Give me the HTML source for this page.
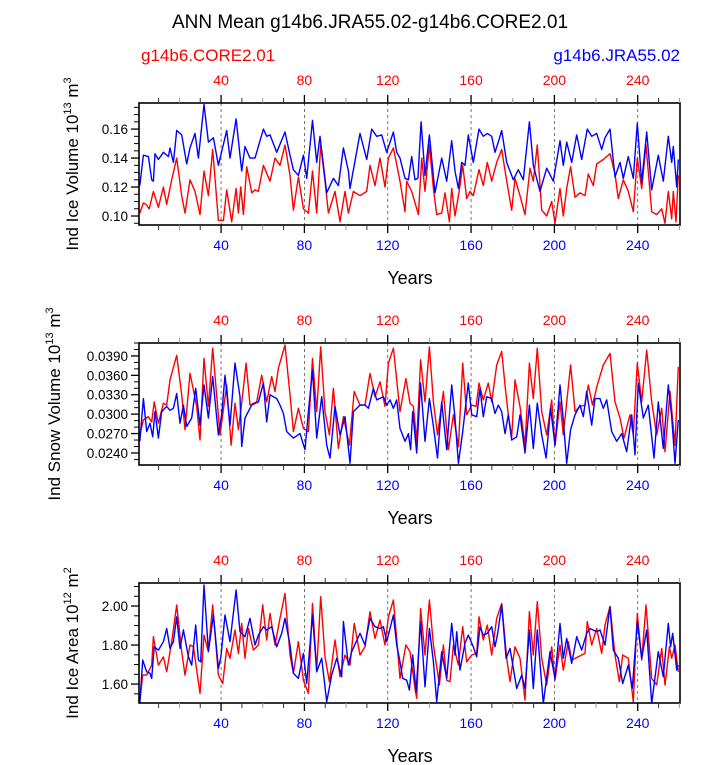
<!DOCTYPE html>
<html><head><meta charset="utf-8"><style>
body{margin:0;background:#fff;}
svg{display:block;font-family:"Liberation Sans",Arial,sans-serif;}
</style></head><body>
<svg id="chart" width="723" height="765" viewBox="0 0 723 765">
<text x="370" y="28" font-size="19" text-anchor="middle">ANN Mean g14b6.JRA55.02-g14b6.CORE2.01</text>
<text x="141" y="61" font-size="17" fill="#ff0000">g14b6.CORE2.01</text>
<text x="680" y="61" font-size="17" fill="#0000ff" text-anchor="end">g14b6.JRA55.02</text>
</svg>
<script>
const p1RedYears=[1,2.7,4,5.5,7.5,9.9,12.3,13.9,16.3,18.7,21.1,22.7,25.1,27.5,29.9,31.8,33.9,36,38.7,41.1,42.7,45.1,47.2,48.3,49.4,50.7,52.3,54.7,56.3,57.9,60.3,63.5,65.9,68.3,70.7,73.1,74.7,77.1,79.5,81.9,83.9,85.9,87.8,89.9,91.5,94.7,97.1,99.5,101.1,103.5,106.7,109.9,111.5,113.9,116.3,118.7,120.3,122.7,125.9,128.3,129.1,131.5,134.7,136.3,137.9,140,141.9,143.5,145.9,147.5,149.6,150.7,152.3,154.4,156,157.9,159.5,161.1,163.8,165.9,167.8,169.9,172.3,174.7,177.1,179.5,181.1,183.5,185.9,188.3,189.9,191.8,193.9,196.3,198.7,200.3,202.7,204.3,205.9,207.8,209.9,212.3,214.7,216.3,218.7,220.3,223.5,226.7,229.1,230.7,233.1,235.5,237.9,239.8,241.9,244,246.7,249.1,251.5,253.1,254.7,256.3,257.1,258.4,259.5];
const p1RedVals=[0.102,0.109,0.108,0.105,0.117,0.106,0.120,0.108,0.125,0.140,0.114,0.102,0.125,0.117,0.101,0.131,0.114,0.146,0.097,0.097,0.118,0.096,0.119,0.102,0.120,0.101,0.134,0.116,0.118,0.117,0.135,0.124,0.140,0.135,0.149,0.128,0.104,0.127,0.105,0.102,0.131,0.102,0.149,0.124,0.102,0.117,0.096,0.117,0.102,0.117,0.114,0.117,0.135,0.121,0.140,0.120,0.140,0.147,0.124,0.103,0.124,0.117,0.101,0.140,0.117,0.149,0.119,0.101,0.102,0.116,0.096,0.119,0.100,0.118,0.135,0.112,0.117,0.114,0.132,0.121,0.137,0.124,0.137,0.146,0.124,0.104,0.126,0.114,0.101,0.133,0.124,0.149,0.104,0.100,0.110,0.095,0.119,0.100,0.119,0.134,0.113,0.116,0.114,0.129,0.121,0.136,0.139,0.143,0.129,0.112,0.125,0.117,0.103,0.140,0.119,0.149,0.103,0.101,0.105,0.095,0.117,0.098,0.117,0.096,0.128];
const p1BlueYears=[1,2.7,5.1,6.7,7.5,8.3,9.9,12.3,14.7,15.5,17.1,18.7,21.1,23.5,25.1,27.5,29.1,31.8,33.9,36.3,38.7,42.7,44.3,47.2,49.9,51.5,53.9,56.3,60.3,61.9,63.5,66.7,70.7,73.1,74.7,77.1,79.5,81.1,83.9,85.9,87.5,90.7,93.9,96.3,98.7,101.1,101.9,106.7,109.9,112.3,114.7,117.1,119.5,122.7,124.3,125.9,128.3,129.9,131.5,133.1,134.5,136,137.9,140,142.7,145.9,148.3,150.7,152.3,153.9,155.5,157.1,158.7,161.1,163.8,165.9,167.8,169.9,171.5,173.1,174.7,177.1,180.3,182.7,185.1,188,189.9,193.1,196.3,199.5,202.7,204.3,205.9,208.3,210.7,213.1,215.8,217.9,220.3,222.7,224.3,226.7,229.1,231.5,233.1,235.5,237.9,239.8,241.9,244.3,246.7,249.9,252.3,254.7,256.3,257.1,258.7,259.5];
const p1BlueVals=[0.121,0.142,0.141,0.125,0.124,0.143,0.139,0.144,0.141,0.147,0.137,0.159,0.156,0.136,0.147,0.157,0.140,0.177,0.151,0.154,0.135,0.159,0.140,0.167,0.131,0.148,0.140,0.140,0.160,0.155,0.156,0.144,0.158,0.142,0.132,0.128,0.142,0.126,0.166,0.137,0.155,0.116,0.126,0.121,0.147,0.131,0.119,0.157,0.139,0.160,0.155,0.156,0.144,0.158,0.144,0.140,0.126,0.125,0.141,0.125,0.126,0.165,0.128,0.156,0.116,0.140,0.124,0.152,0.131,0.119,0.137,0.135,0.156,0.137,0.160,0.155,0.157,0.155,0.144,0.151,0.159,0.137,0.125,0.132,0.125,0.165,0.135,0.117,0.133,0.124,0.152,0.135,0.151,0.137,0.156,0.139,0.160,0.155,0.157,0.146,0.154,0.160,0.127,0.137,0.126,0.141,0.126,0.164,0.123,0.158,0.118,0.142,0.124,0.155,0.137,0.148,0.120,0.139];
const p1YTicks=[0.10,0.12,0.14,0.16];
const p1YLabels=["0.10","0.12","0.14","0.16"];
const p2RedYears=[1,2.7,5,6.7,7.9,9.9,12.3,13.9,15.5,18.7,21.1,22.7,25.1,28.3,29.9,31.8,33.9,36,39.5,42.7,44.8,46.7,48.3,49.9,52,53.9,57.1,59.5,61.9,64.3,65.9,67.5,69.1,70.7,73.1,74.7,77.1,79.5,81.9,83.9,85.9,87.8,89.9,92,93.9,96.3,98.7,101.6,103.9,106.7,109.1,111.5,113.9,116.3,118.7,120.3,122.7,125.9,128.7,130.7,132.3,133.9,135.8,137.9,140,141.9,143.9,146.7,149.1,151.5,153.9,156,157.9,160.3,162.4,163.8,165.9,168.3,169.9,172.3,174.7,176.3,177.9,179.5,181.1,183.5,185.9,188,189.9,191.8,193.9,196.3,198.7,200.3,202.7,204.3,207.8,209.9,212.3,214.7,216.3,218.3,220.6,223.5,226.7,229.1,231.5,233.4,236.3,237.9,239.8,241.9,244.3,246.7,249.1,251.5,253.1,255.5,257.9,259.5];
const p2RedVals=[0.0268,0.0291,0.0296,0.0288,0.0319,0.0286,0.0317,0.0314,0.0353,0.0391,0.0330,0.0276,0.0363,0.0312,0.0260,0.0386,0.0312,0.0402,0.0268,0.0345,0.0252,0.0317,0.0276,0.0317,0.0379,0.0314,0.0319,0.0360,0.0319,0.0358,0.0335,0.0371,0.0389,0.0407,0.0330,0.0273,0.0309,0.0278,0.0273,0.0386,0.0304,0.0404,0.0304,0.0268,0.0340,0.0247,0.0296,0.0252,0.0335,0.0314,0.0314,0.0363,0.0327,0.0350,0.0312,0.0379,0.0402,0.0304,0.0355,0.0317,0.0312,0.0258,0.0384,0.0319,0.0404,0.0319,0.0268,0.0335,0.0245,0.0299,0.0250,0.0379,0.0299,0.0314,0.0312,0.0348,0.0322,0.0348,0.0319,0.0376,0.0397,0.0345,0.0299,0.0265,0.0353,0.0312,0.0252,0.0379,0.0324,0.0402,0.0304,0.0268,0.0322,0.0252,0.0319,0.0268,0.0376,0.0304,0.0312,0.0314,0.0345,0.0314,0.0345,0.0376,0.0394,0.0319,0.0294,0.0263,0.0299,0.0268,0.0379,0.0319,0.0399,0.0319,0.0268,0.0309,0.0242,0.0335,0.0252,0.0373];
const p2BlueYears=[1,2.7,4.3,5.9,7.2,8.3,9.9,11.5,13.9,15.5,17.1,18.7,20.3,21.9,23.5,25.9,27.8,29.9,31.8,33.9,36,38.7,40.3,41.9,44.3,46.7,49.1,49.9,51.5,54.7,57.9,60.3,61.9,63.5,66.7,68.3,69.9,71.5,74.7,77.9,80.3,81.9,83.9,85.9,88.3,90.7,92.3,94.7,97.1,99.5,101.9,103.5,106.7,109.1,110.7,113.1,114.7,117.9,119.5,121.1,122.7,124.3,125.9,128.3,129.9,131,132,133.9,135.8,137.9,140,141.9,143.9,145.9,148.3,150.7,152.3,153.9,156,158.7,160.3,162.7,164.3,165.9,167.5,169.9,171.5,173.1,174.7,176.3,177.9,179.5,181.9,183.5,185.9,188,189.9,191.8,193.9,196,198.2,200.3,202.7,204.3,205.9,207.8,209.9,212.3,213.9,215.5,217.9,219.5,221.9,223.5,225.1,227.5,229.9,232.3,234.7,237.1,238.7,240.3,242.7,245.1,247.8,249.9,252.3,254.7,256.3,257.9,259.5];
const p2BlueVals=[0.0258,0.0324,0.0273,0.0286,0.0265,0.0304,0.0263,0.0304,0.0312,0.0306,0.0309,0.0332,0.0286,0.0314,0.0281,0.0294,0.0340,0.0283,0.0345,0.0294,0.0358,0.0268,0.0299,0.0360,0.0283,0.0379,0.0327,0.0250,0.0294,0.0314,0.0319,0.0348,0.0288,0.0330,0.0324,0.0314,0.0301,0.0273,0.0263,0.0270,0.0245,0.0304,0.0368,0.0263,0.0327,0.0252,0.0232,0.0312,0.0268,0.0296,0.0224,0.0304,0.0314,0.0314,0.0309,0.0340,0.0322,0.0327,0.0314,0.0322,0.0309,0.0322,0.0278,0.0258,0.0270,0.0245,0.0304,0.0240,0.0348,0.0258,0.0324,0.0281,0.0232,0.0319,0.0245,0.0345,0.0294,0.0224,0.0273,0.0348,0.0299,0.0296,0.0340,0.0296,0.0327,0.0324,0.0301,0.0314,0.0304,0.0270,0.0299,0.0260,0.0265,0.0299,0.0240,0.0314,0.0247,0.0317,0.0268,0.0232,0.0309,0.0252,0.0345,0.0291,0.0224,0.0276,0.0299,0.0314,0.0296,0.0335,0.0283,0.0324,0.0324,0.0309,0.0322,0.0273,0.0258,0.0270,0.0242,0.0299,0.0237,0.0348,0.0294,0.0314,0.0232,0.0319,0.0247,0.0345,0.0296,0.0224,0.0291];
const p2YTicks=[0.024,0.027,0.030,0.033,0.036,0.039];
const p2YLabels=["0.0240","0.0270","0.0300","0.0330","0.0360","0.0390"];
const p3RedYears=[1,2.4,4.3,6.7,7.5,9.9,12.3,13.9,16.3,18.7,21.1,22.7,25.1,26.7,29.9,31.8,33.9,36,38.7,40.8,42.7,44.3,46.7,48.3,49.9,51.5,53.1,55.5,57.9,60,61.9,63.5,65.9,68.3,70.7,73.1,74.7,77.1,79.5,81.9,83.9,85.9,87.8,89.9,92,94.7,97.1,99.5,101.9,103.9,106.7,109.1,111.5,113.9,116.3,118.7,120.3,122.7,125.9,128.7,130.7,133.1,133.9,135.8,137.9,140,141.9,144.8,146.7,148.3,149.9,151.5,153.9,156,157.9,160.3,162.7,163.8,165.9,167.8,169.9,172.3,174.7,177.1,178.7,181.1,183.5,185.9,188,189.9,191.8,193.9,196.3,198.7,200.3,202.7,204.3,206.7,208.3,211.5,214.7,215.8,217.9,220.3,222.7,224.3,226.7,229.1,231.2,232.8,235.5,237.9,239.8,241.9,244,246.7,249.1,251.5,253.1,255.2,256.3,257.9,259.5];
const p3RedVals=[1.510,1.646,1.646,1.697,1.843,1.697,1.740,1.663,1.817,2.005,1.766,1.646,1.800,1.791,1.552,1.851,1.766,2.005,1.646,1.603,1.783,1.732,1.877,1.757,1.911,1.732,1.885,1.774,1.800,2.005,1.826,1.962,1.800,1.937,2.065,1.749,1.655,1.817,1.620,1.552,2.013,1.672,2.048,1.740,1.612,1.826,1.638,1.749,1.697,1.911,1.749,1.791,1.971,1.834,1.928,1.800,1.945,2.031,1.629,1.800,1.766,1.578,1.527,1.988,1.749,2.031,1.800,1.595,1.800,1.620,1.612,1.800,1.697,1.894,1.714,1.749,1.757,1.945,1.826,1.903,1.749,1.937,2.013,1.732,1.612,1.791,1.732,1.518,1.971,1.749,2.022,1.732,1.595,1.791,1.620,1.800,1.672,1.817,1.723,1.740,1.757,1.920,1.800,1.885,1.757,1.902,1.997,1.749,1.612,1.749,1.732,1.509,1.962,1.723,2.005,1.629,1.595,1.783,1.595,1.791,1.732,1.800,1.663];
const p3BlueYears=[1,2.4,4.3,5.9,6.7,7.9,9.9,12.3,13.9,15.5,17.1,18.7,20.3,21.9,24.3,25.9,27.8,29.1,30.2,31.8,33.9,36.3,38.7,39.9,41.9,44.3,47.2,49.1,51.5,53.9,56.3,57.9,60.3,61.9,64.3,66.7,69.1,70.7,73.1,74.7,77.1,79.5,81.1,83.9,85.9,88.3,90.7,93.1,95.5,97.9,98.7,101.1,102.7,106.7,109.1,111.5,113.9,116.3,117.9,119.5,122.7,124.3,125.9,127.2,129.1,130.4,132,133.6,135.8,137.9,140,141.9,143.5,145.9,148.3,150.7,152.3,153.1,154.7,157.1,158.7,161.1,162.7,164.3,165.9,167.8,169.9,171.5,172.8,174.7,176.8,178.7,181.9,184.3,185.9,188,189.9,191.8,194.7,197.9,200.3,202.7,204.3,205.9,208.3,210.7,213.1,215.5,217.1,220.3,221.9,224.3,226.7,228.3,230.7,232.8,235.5,237.4,239.8,241.9,244.3,246.7,249.9,252.3,254.7,255.8,256.8,258.7,259.5];
const p3BlueVals=[1.501,1.723,1.663,1.655,1.629,1.791,1.774,1.817,1.885,1.783,1.817,1.945,1.783,1.877,1.740,1.697,1.902,1.723,1.714,2.108,1.766,1.954,1.680,1.740,1.954,1.817,2.082,1.868,1.843,1.937,1.800,1.851,1.894,1.877,1.894,1.791,1.860,1.937,1.800,1.655,1.629,1.757,1.603,1.954,1.663,1.732,1.509,1.646,1.732,1.638,1.920,1.697,1.766,1.860,1.800,1.937,1.894,1.885,1.894,1.817,1.954,1.800,1.714,1.629,1.620,1.569,1.749,1.561,1.920,1.586,1.885,1.714,1.509,1.766,1.629,1.911,1.749,1.868,1.672,1.809,1.851,1.791,1.740,1.894,1.851,1.860,1.894,1.791,1.860,2.005,1.732,1.783,1.578,1.646,1.578,1.877,1.578,1.877,1.501,1.766,1.629,1.911,1.732,1.834,1.706,1.843,1.774,1.860,1.885,1.868,1.877,1.800,1.997,1.774,1.732,1.603,1.697,1.578,1.920,1.732,1.877,1.501,1.766,1.638,1.911,1.791,1.860,1.672,1.697];
const p3YTicks=[1.6,1.8,2.0];
const p3YLabels=["1.60","1.80","2.00"];
const xTickYears=[40,80,120,160,200,240];
const xTickLabels=["40","80","120","160","200","240"];

const NS="http://www.w3.org/2000/svg";
const svg=document.getElementById('chart');
function mk(tag,attrs,parent){const e=document.createElementNS(NS,tag);for(const k in attrs)e.setAttribute(k,attrs[k]);(parent||svg).appendChild(e);return e;}
const X0=139,X1=680,YR0=0.6,YR1=260.3;
function xs(yr){return X0+(yr-YR0)/(YR1-YR0)*(X1-X0);}

function panel(id,top,bot,vmin,vmax,minorStep,yTicks,yLabels,title,titleX,redY,redV,blueY,blueV,supTxt,unitSup){
  const g=mk('g',{});
  
  
  const ys=v=>bot-(v-vmin)/(vmax-vmin)*(bot-top);
  xTickYears.forEach(t=>{
    const l=mk('line',{x1:xs(t),x2:xs(t),y1:top,y2:bot,stroke:'#555','stroke-width':0.8,'stroke-dasharray':'3,3'},g);
    
    
  });
  const cp=mk('clipPath',{id:'clip-'+id},g);
  mk('rect',{x:X0,y:top,width:X1-X0,height:bot-top},cp);
  const sg=mk('g',{'clip-path':'url(#clip-'+id+')'},g);
  
  
  const d1=redY.map((y,i)=>(i?'L':'M')+xs(y).toFixed(1)+','+ys(redV[i]).toFixed(1)).join('');
  const r=mk('path',{d:d1,fill:'none',stroke:'#ff0000','stroke-width':1.4,'stroke-linejoin':'round'},sg);
  
  
  const d2=blueY.map((y,i)=>(i?'L':'M')+xs(y).toFixed(1)+','+ys(blueV[i]).toFixed(1)).join('');
  const b=mk('path',{d:d2,fill:'none',stroke:'#0000ff','stroke-width':1.4,'stroke-linejoin':'round'},sg);
  
  
  const fr=mk('rect',{x:X0,y:top,width:X1-X0,height:bot-top,fill:'none',stroke:'#000','stroke-width':1.6},g);
  
  
  for(let yr=10;yr<=260;yr+=10){
    const maj=yr%40===0;const len=maj?8:5;const col=(yr%40===20)?'#999':'#333';
    mk('line',{x1:xs(yr),x2:xs(yr),y1:top,y2:top-len,stroke:maj?'#000':col,'stroke-width':maj?1.3:1},g);
    mk('line',{x1:xs(yr),x2:xs(yr),y1:bot,y2:bot+len,stroke:maj?'#000':col,'stroke-width':maj?1.3:1},g);
  }
  xTickYears.forEach((t,i)=>{
    const a=mk('text',{x:xs(t),y:top-18,'font-size':14,fill:'#ff0000','text-anchor':'middle'},g);
    a.textContent=xTickLabels[i];
    
    
    const bb=mk('text',{x:xs(t),y:bot+25,'font-size':14,fill:'#0000ff','text-anchor':'middle'},g);
    bb.textContent=xTickLabels[i];
    
    
  });
  const xt=mk('text',{x:410,y:bot+59,'font-size':18,'text-anchor':'middle'},g);
  xt.textContent='Years';
  
  
  for(let k=Math.ceil(vmin/minorStep-1e-6);k*minorStep<=vmax+1e-9;k++){
    const v=k*minorStep;const y=ys(v);
    const maj=yTicks.some(t=>Math.abs(t-v)<minorStep/10);
    mk('line',{x1:X0,x2:X0-(maj?8:5),y1:y,y2:y,stroke:'#000','stroke-width':maj?1.3:1},g);
  }
  yTicks.forEach((t,i)=>{
    const tx=mk('text',{x:X0-11,y:ys(t)+5,'font-size':13.5,'text-anchor':'end'},g);
    tx.textContent=yLabels[i];
    
    
  });
  const cy=(top+bot)/2;
  const yt=mk('text',{x:titleX,y:cy,'font-size':17,'text-anchor':'middle',transform:'rotate(-90 '+titleX+' '+cy+')'},g);
  
  
  yt.appendChild(document.createTextNode(title+' 10'));
  const s1=mk('tspan',{dy:-7,'font-size':11},yt);s1.textContent=supTxt;
  const t2=mk('tspan',{dy:7},yt);t2.textContent=' m';
  const s2=mk('tspan',{dy:-7,'font-size':11},yt);s2.textContent=unitSup;
}
panel('ice-volume',103,225,0.0938,0.178,0.005,p1YTicks,p1YLabels,'Ind Ice Volume',78,p1RedYears,p1RedVals,p1BlueYears,p1BlueVals,'13','3');
panel('snow-volume',343,465,0.02214,0.0410,0.001,p2YTicks,p2YLabels,'Ind Snow Volume',60,p2RedYears,p2RedVals,p2BlueYears,p2BlueVals,'13','3');
panel('ice-area',583,703,1.503,2.118,0.05,p3YTicks,p3YLabels,'Ind Ice Area',78,p3RedYears,p3RedVals,p3BlueYears,p3BlueVals,'12','2');
</script>
</body></html>
